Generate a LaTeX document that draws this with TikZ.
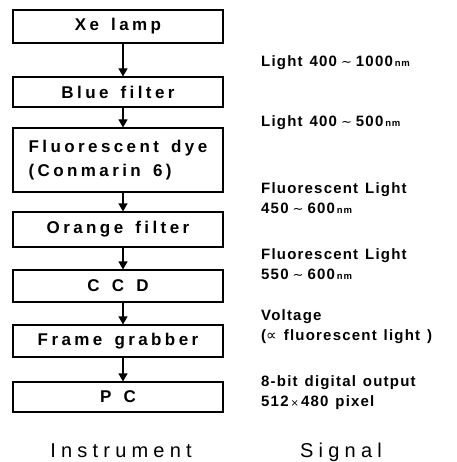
\documentclass[tikz,border=0pt]{standalone}
\usepackage{fontspec}
\setmainfont{Liberation Sans}
\newfontfamily\boxfont{Liberation Sans}[LetterSpace=20,WordSpace=1.5]
\newfontfamily\sigfont{Liberation Sans}[LetterSpace=8,WordSpace=1.3]
\newfontfamily\capfont{Liberation Sans}[LetterSpace=26]
\newfontfamily\dejavu{DejaVu Sans}
\usetikzlibrary{arrows.meta}
\newcommand{\nmunit}{\hspace{2pt}{\fontsize{9.5}{9.5}\selectfont nm}}
\newcommand{\tld}{\hspace{4pt}{\dejavu\mdseries\fontsize{13}{13}\selectfont ∼}\hspace{4pt}}
\begin{document}
\begin{tikzpicture}[x=1pt,y=-1pt,
  inst/.style={draw,line width=1.1pt,minimum width=210pt,inner sep=0pt,
    font=\boxfont\bfseries\fontsize{17}{24}\selectfont},
  arr/.style={line width=1.1pt,-{Triangle[length=8pt,width=9pt]}},
  sig/.style={anchor=base west,inner sep=0pt,font=\sigfont\bfseries\fontsize{15}{19.5}\selectfont,align=left},
  captxt/.style={anchor=base,inner sep=0pt,font=\capfont\fontsize{20}{24}\selectfont}]
\useasboundingbox (0,0) rectangle (456,462);
\node[inst,minimum height=33pt] (xe) at (118,26.5) {Xe lamp};
\node[inst,minimum height=30pt] (blue) at (118,92) {Blue filter};
\node[inst,minimum height=64pt,align=left] (dye) at (118,160) {Fluorescent dye\\(Conmarin 6)};
\node[inst,minimum height=35pt] (orange) at (118,229.5) {Orange filter};
\node[inst,minimum height=32pt] (ccd) at (118,286) {C C D};
\node[inst,minimum height=32pt] (fg) at (118,341) {Frame grabber};
\node[inst,minimum height=30pt] (pc) at (118,397) {P C};
\draw[arr] ([xshift=5pt]xe.south) -- ([xshift=5pt]blue.north);
\draw[arr] ([xshift=5pt]blue.south) -- ([xshift=5pt]dye.north);
\draw[arr] ([xshift=5pt]dye.south) -- ([xshift=5pt]orange.north);
\draw[arr] ([xshift=5pt]orange.south) -- ([xshift=5pt]ccd.north);
\draw[arr] ([xshift=5pt]ccd.south) -- ([xshift=5pt]fg.north);
\draw[arr] ([xshift=5pt]fg.south) -- ([xshift=5pt]pc.north);
\node[sig] (s1) at (261,67) {Light 400\tld 1000\nmunit};
\node[sig] (s2) at (261,127) {Light 400\tld 500\nmunit};
\node[sig] (s3) at (261,213) {Fluorescent Light\\450\tld 600\nmunit};
\node[sig] (s4) at (261,279) {Fluorescent Light\\550\tld 600\nmunit};
\node[sig] (s5) at (261,340) {Voltage\\({\dejavu\mdseries ∝} fluorescent light )};
\node[sig] (s6) at (261,406) {8-bit digital output\\512\hspace{2pt}{\dejavu\mdseries\fontsize{10}{10}\selectfont ×}\hspace{2pt}480 pixel};
\node[captxt] (ci) at (121,457) {Instrument};
\node[captxt] (cs) at (341,457) {Signal};
\end{tikzpicture}
\end{document}
